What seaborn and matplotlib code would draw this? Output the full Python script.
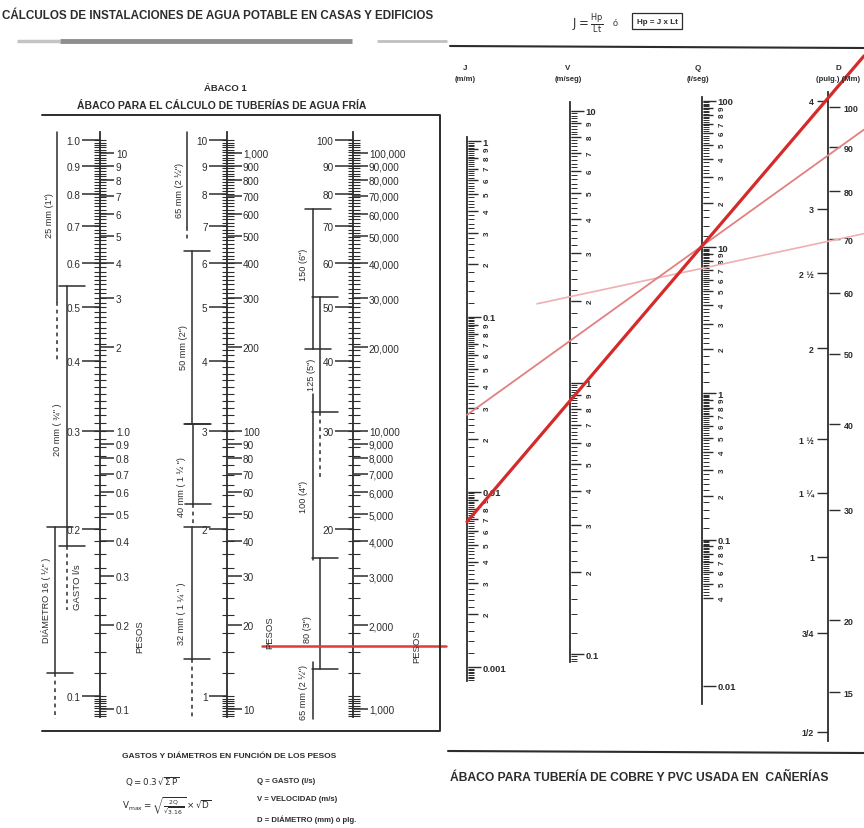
import numpy as np
import matplotlib
matplotlib.use("Agg")
import matplotlib.pyplot as plt
import seaborn as sns
from matplotlib.ticker import FixedLocator, FixedFormatter, NullFormatter, NullLocator, LogLocator

# ------------------------------------------------------------------ data
# Abaco 1 (agua fria): gasto Q (l/s) on the left of each scale, pesos P on the right
gasto1 = [0.1, 0.2, 0.3, 0.4, 0.5, 0.6, 0.7, 0.8, 0.9, 1.0]
gasto1_lbl = ["0.1", "0.2", "0.3", "0.4", "0.5", "0.6", "0.7", "0.8", "0.9", "1.0"]
pesos1 = [0.1, 0.2, 0.3, 0.4, 0.5, 0.6, 0.7, 0.8, 0.9, 1.0, 2, 3, 4, 5, 6, 7, 8, 9, 10]
pesos1_lbl = ["0.1", "0.2", "0.3", "0.4", "0.5", "0.6", "0.7", "0.8", "0.9", "1.0",
              "2", "3", "4", "5", "6", "7", "8", "9", "10"]
gasto2 = [1, 2, 3, 4, 5, 6, 7, 8, 9, 10]
gasto2_lbl = ["1", "2", "3", "4", "5", "6", "7", "8", "9", "10"]
pesos2 = [10, 20, 30, 40, 50, 60, 70, 80, 90, 100, 200, 300, 400, 500, 600, 700, 800, 900, 1000]
pesos2_lbl = ["10", "20", "30", "40", "50", "60", "70", "80", "90", "100",
              "200", "300", "400", "500", "600", "700", "800", "900", "1,000"]
gasto3 = [20, 30, 40, 50, 60, 70, 80, 90, 100]
gasto3_lbl = ["20", "30", "40", "50", "60", "70", "80", "90", "100"]
pesos3 = [1000, 2000, 3000, 4000, 5000, 6000, 7000, 8000, 9000, 10000,
          20000, 30000, 40000, 50000, 60000, 70000, 80000, 90000, 100000]
pesos3_lbl = ["1,000", "2,000", "3,000", "4,000", "5,000", "6,000", "7,000", "8,000", "9,000",
              "10,000", "20,000", "30,000", "40,000", "50,000", "60,000", "70,000",
              "80,000", "90,000", "100,000"]

# diameter ranges (gasto l/s): name, column, tick-start, solid-end, dashed-end, label-at
diam_name = ['25 mm (1")', '20 mm ( ¾" )', 'DIÁMETRO 16 ( ½" )',
             '65 mm (2 ½")', '50 mm (2")', '40 mm ( 1 ½ ")', '32 mm ( 1 ¼ " )',
             '150 (6")', '125 (5")', '100 (4")', '80 (3")', '65 mm (2 ½")']
diam_col = [0, 0, 0, 1, 1, 1, 1, 2, 2, 2, 2, 2]
diam_q_start = [1.034, 0.546, 0.201, 10.34, 6.31, 3.08, 2.01, 75.2, 52.2, 34.9, 17.7, 11.5]
diam_q_solid = [0.512, 0.186, 0.110, 6.98, 3.08, 2.22, 1.166, 42.1, 32.4, 17.6, 11.2, 9.09]
diam_q_dash = [0.399, 0.143, 0.0909, 6.64, 3.08, 2.04, 0.917, 42.1, 24.6, 17.6, 11.2, 9.09]
diam_q_label = [0.736, 0.302, 0.149, 8.16, 4.26, 2.39, 1.41, 59.8, 38.0, 22.9, 13.2, 10.2]
diam_has_tick = [False, True, True, False, True, True, True, True, True, False, True, False]
pesos_mark = 1680  # red reading line on the third scale

# Abaco cobre / PVC
J_major = [0.001, 0.01, 0.1, 1]
J_major_lbl = ["0.001", "0.01", "0.1", "1"]
J_digits = [0.002, 0.003, 0.004, 0.005, 0.006, 0.007, 0.008, 0.009,
            0.02, 0.03, 0.04, 0.05, 0.06, 0.07, 0.08, 0.09,
            0.2, 0.3, 0.4, 0.5, 0.6, 0.7, 0.8, 0.9]
V_major = [0.1, 1, 10]
V_major_lbl = ["0.1", "1", "10"]
V_digits = [0.2, 0.3, 0.4, 0.5, 0.6, 0.7, 0.8, 0.9, 2, 3, 4, 5, 6, 7, 8, 9]
Q_major = [0.01, 0.1, 1, 10, 100]
Q_major_lbl = ["0.01", "0.1", "1", "10", "100"]
Q_digits = [0.04, 0.05, 0.06, 0.07, 0.08, 0.09, 0.2, 0.3, 0.4, 0.5, 0.6, 0.7, 0.8, 0.9,
            2, 3, 4, 5, 6, 7, 8, 9, 20, 30, 40, 50, 60, 70, 80, 90]
D_pulg = [0.5, 0.75, 1, 1.25, 1.5, 2, 2.5, 3, 4]
D_pulg_lbl = ["1/2", "3/4", "1", "1 ¼", "1 ½", "2", "2 ½", "3", "4"]
D_mm = [15, 20, 30, 40, 50, 60, 70, 80, 90, 100]
D_mm_lbl = ["15", "20", "30", "40", "50", "60", "70", "80", "90", "100"]
# reading lines: (J, Q) pairs and one (V, D) pair
line_thick_J, line_thick_Q = 0.00675, 10.2
line_mid_J, line_mid_Q = 0.0275, 10.2
line_pale_V, line_pale_D = 2.07, 2.74

# ------------------------------------------------------------------ style
sns.set_style("white")
plt.rcParams['font.family'] = ['Liberation Sans', 'DejaVu Sans']
plt.rcParams['mathtext.fontset'] = 'dejavusans'
ink = "#2c2c2c"

W, H = 864, 829
fig = plt.figure(figsize=(8.64, 8.29), dpi=100)
fig.patch.set_facecolor("white")

ov = fig.add_axes([0, 0, 1, 1])
ov.set_xlim(0, W)
ov.set_ylim(H, 0)
ov.axis('off')
ov.set_zorder(10)
ov.autoscale(False)


def rect(x, ytop, ybot, w=0.5):
    return [x / W, 1 - ybot / H, w / W, (ybot - ytop) / H]


def bare(ax):
    for s in ax.spines.values():
        s.set_visible(False)
    ax.xaxis.set_visible(False)
    ax.patch.set_alpha(0)


def scale_axis(x, ytop, ybot, lim, scale='log', funcs=None):
    ax = fig.add_axes(rect(x, ytop, ybot))
    bare(ax)
    ax.spines['left'].set_visible(True)
    ax.spines['left'].set_color(ink)
    ax.spines['left'].set_linewidth(1.3)
    if scale == 'log':
        ax.set_yscale('log')
    else:
        ax.set_yscale('function', functions=funcs)
    ax.set_ylim(*lim)
    return ax


def twin(ax, lim, scale='log', funcs=None):
    t = ax.twinx()
    bare(t)
    if scale == 'log':
        t.set_yscale('log')
    else:
        t.set_yscale('function', functions=funcs)
    t.set_ylim(*lim)
    return t


def px(ax, v):
    d = ax.transData.transform((0, v))
    return ov.transData.inverted().transform(d)


def q2p(q):
    return (np.asarray(q) / 0.3) ** 2


# ------------------------------------------------------------------ Abaco 1
col_x = [100, 227, 353]
col_lim = [(0.0917, 1.034), (0.917, 10.34), (9.17, 103.4)]
col_g = [(gasto1, gasto1_lbl), (gasto2, gasto2_lbl), (gasto3, gasto3_lbl)]
col_p = [(pesos1, pesos1_lbl), (pesos2, pesos2_lbl), (pesos3, pesos3_lbl)]
col_axes = []
pes_axes = []
for x, lim, (g, gl), (p, pl) in zip(col_x, col_lim, col_g, col_p):
    ax = scale_axis(x, 133, 718, lim)
    tp = twin(ax, (q2p(lim[0]), q2p(lim[1])))
    td = twin(ax, lim)
    ax.yaxis.set_major_locator(FixedLocator(g))
    ax.yaxis.set_major_formatter(FixedFormatter(gl))
    ax.yaxis.set_minor_locator(NullLocator())
    ax.tick_params(axis='y', which='major', left=True, right=False, labelleft=True,
                   labelright=False, length=13, width=1.1, pad=1, labelsize=7.2,
                   colors=ink, direction='out')
    tp.yaxis.set_major_locator(FixedLocator(p))
    tp.yaxis.set_major_formatter(FixedFormatter(pl))
    tp.yaxis.set_minor_locator(NullLocator())
    tp.tick_params(axis='y', which='major', right=True, left=False, labelright=True,
                   labelleft=False, length=10, width=1.1, pad=1, labelsize=7.2,
                   colors=ink, direction='out')
    td.yaxis.set_major_locator(LogLocator(base=10, subs=np.arange(1.0, 10.0, 0.1), numticks=20))
    td.yaxis.set_major_formatter(NullFormatter())
    td.yaxis.set_minor_locator(NullLocator())
    td.tick_params(axis='y', which='major', right=True, left=False, labelright=False,
                   labelleft=False, length=9, width=0.8, colors=ink, direction='inout')
    col_axes.append(ax)
    pes_axes.append(tp)

# diameter bars (positions are layout offsets from each scale)
bar_x = [57, 67, 55, 187, 192, 193, 192, 313, 320, 313, 320, 313]
lab_x = [49, 57, 46, 180, 183, 182, 182, 303, 311, 304, 308, 304]
for i, name in enumerate(diam_name):
    a = col_axes[diam_col[i]]
    y0 = px(a, diam_q_start[i])[1]
    y1 = px(a, diam_q_solid[i])[1]
    y2 = px(a, diam_q_dash[i])[1]
    yl = px(a, diam_q_label[i])[1]
    xb = bar_x[i]
    ov.plot([xb, xb], [y0, y1], color=ink, lw=1.1)
    if y2 > y1 + 2:
        ov.plot([xb, xb], [y1, y2], color=ink, lw=1.1, ls=(0, (2.5, 2.5)))
    if diam_has_tick[i]:
        ov.plot([xb - 8, xb + 18], [y0, y0], color=ink, lw=1.1)
        ov.plot([xb - 8, xb + 18], [y1, y1], color=ink, lw=1.1)
    ov.text(lab_x[i], yl, name, rotation=90, fontsize=6.6, color=ink,
            ha='center', va='center')

ov.text(78, 587, "GASTO l/s", rotation=90, fontsize=6.8, color=ink, ha='center', va='center')
ov.text(140, 637, "PESOS", rotation=90, fontsize=6.8, color=ink, ha='center', va='center')
ov.text(270, 633, "PESOS", rotation=90, fontsize=6.8, color=ink, ha='center', va='center')
ov.text(417, 647, "PESOS", rotation=90, fontsize=6.8, color=ink, ha='center', va='center')

# red reading line on abaco 1
yr = px(pes_axes[2], pesos_mark)[1]
sns.lineplot(x=[262, 446], y=[yr, yr], ax=ov, color="#e03a3a", lw=1.8, sort=False)

# titles / frame of abaco 1
ov.text(2, 16, "CÁLCULOS DE INSTALACIONES DE AGUA POTABLE EN CASAS Y EDIFICIOS",
        fontsize=8.4, fontweight='bold', color=ink, ha='left', va='center')
ov.plot([17, 60], [42, 42], color="#c4c4c4", lw=2.5, solid_capstyle='butt')
ov.plot([60, 352], [42, 42], color="#8e8e8e", lw=3.5, solid_capstyle='butt')
ov.plot([377, 447], [42, 42], color="#c0c0c0", lw=2, solid_capstyle='butt')
ov.text(225, 88, "ÁBACO 1", fontsize=6.8, fontweight='bold', color=ink, ha='center', va='center')
ov.text(222, 106, "ÁBACO PARA EL CÁLCULO DE TUBERÍAS DE AGUA FRÍA", fontsize=7.5,
        fontweight='bold', color=ink, ha='center', va='center')
ov.plot([42, 440, 440, 42], [116, 116, 732, 732], color=ink, lw=1.4)

ov.text(122, 757, "GASTOS Y DIÁMETROS EN FUNCIÓN DE LOS PESOS", fontsize=6,
        fontweight='bold', color=ink, ha='left', va='center')
ov.text(125, 782, r"$\mathsf{Q = 0.3\,\sqrt{\Sigma\,P}}$", fontsize=6.3, color=ink,
        ha='left', va='center')
ov.text(122, 806, r"$\mathsf{V_{max} = \sqrt{\frac{2Q}{\sqrt{3.16}}}\times\sqrt{D}}$",
        fontsize=6.3, color=ink, ha='left', va='center')
ov.text(257, 782, "Q = GASTO (l/s)", fontsize=5.6, fontweight='bold', color=ink, va='center')
ov.text(257, 800, "V = VELOCIDAD (m/s)", fontsize=5.6, fontweight='bold', color=ink, va='center')
ov.text(257, 820, "D = DIÁMETRO (mm) ó plg.", fontsize=5.6, fontweight='bold', color=ink,
        va='center')


# ------------------------------------------------------------------ Abaco cobre / PVC
def right_scale(x, ytop, ybot, lim, major, major_lbl, digits, lo=None):
    ax = scale_axis(x, ytop, ybot, lim)
    td = twin(ax, lim)
    ax.yaxis.set_ticks_position('right')
    ax.yaxis.set_label_position('right')
    ax.yaxis.set_major_locator(FixedLocator(major))
    ax.yaxis.set_major_formatter(FixedFormatter(major_lbl))
    ax.yaxis.set_minor_locator(FixedLocator(digits))
    ax.yaxis.set_minor_formatter(FixedFormatter([str(int(round(d / 10 ** np.floor(np.log10(d)))))
                                                 for d in digits]))
    ax.tick_params(axis='y', which='major', left=False, right=True, labelleft=False,
                   labelright=True, length=9, width=1, pad=2, labelsize=6.8, colors=ink,
                   direction='out')
    ax.tick_params(axis='y', which='minor', left=False, right=True, labelleft=False,
                   labelright=True, length=7, width=1, pad=5, labelsize=5.8, colors=ink,
                   direction='out', labelrotation=90)
    for t in ax.get_yticklabels(which='both'):
        t.set_fontweight('bold')
    dense = LogLocator(base=10, subs=np.arange(1.0, 10.0, 0.2), numticks=20).tick_values(*lim)
    if lo is not None:
        dense = [d for d in dense if d >= lo]
    td.yaxis.set_major_locator(FixedLocator(dense))
    td.yaxis.set_major_formatter(NullFormatter())
    td.yaxis.set_minor_locator(NullLocator())
    td.tick_params(axis='y', which='major', right=True, left=False, labelright=False,
                   labelleft=False, length=4, width=0.7, colors=ink, direction='out')
    return ax


axJ = right_scale(467, 138, 682, (0.000832, 1.06), J_major, J_major_lbl, J_digits)
axV = right_scale(570, 103, 663, (0.0935, 10.79), V_major, V_major_lbl, V_digits)
axQ = right_scale(702, 98, 705, (0.00753, 106.5), Q_major, Q_major_lbl, Q_digits, lo=0.04)


def d_fwd(d):
    return np.power(np.maximum(d, 1e-6), 0.25)


def d_inv(f):
    return np.power(np.maximum(f, 0), 4)


def mm_fwd(m):
    return np.power(np.maximum(m, 1e-6) / 25.4, 0.25)


def mm_inv(f):
    return 25.4 * np.power(np.maximum(f, 0), 4)


D_lim = (0.480, 4.093)
axD = scale_axis(828, 93, 742, D_lim, scale='function', funcs=(d_fwd, d_inv))
tmm = twin(axD, (D_lim[0] * 25.4, D_lim[1] * 25.4), scale='function', funcs=(mm_fwd, mm_inv))
axD.yaxis.set_ticks_position('left')
axD.yaxis.set_major_locator(FixedLocator(D_pulg))
axD.yaxis.set_major_formatter(FixedFormatter(D_pulg_lbl))
axD.yaxis.set_minor_locator(NullLocator())
axD.tick_params(axis='y', which='major', left=True, right=False, labelleft=True,
                labelright=False, length=8, width=1, pad=2, labelsize=6.4, colors=ink)
for t in axD.get_yticklabels():
    t.set_fontweight('bold')
tmm.yaxis.set_major_locator(FixedLocator(D_mm))
tmm.yaxis.set_major_formatter(FixedFormatter(D_mm_lbl))
tmm.yaxis.set_minor_locator(NullLocator())
tmm.tick_params(axis='y', which='major', right=True, left=False, labelright=True,
                labelleft=False, length=8, width=1, pad=3, labelsize=6.4, colors=ink)
for t in tmm.get_yticklabels():
    t.set_fontweight('bold')

# header of right abaco
ov.text(572, 23, r"$\mathsf{J = \frac{Hp}{Lt}}$", fontsize=8.5, color=ink, ha='left', va='center')
ov.text(615, 23, "ó", fontsize=6.5, color=ink, ha='center', va='center')
ov.text(657, 22, "Hp = J x Lt", fontsize=5.8, fontweight='bold', color=ink, ha='center',
        va='center', bbox=dict(boxstyle='square,pad=0.6', fc='white', ec=ink, lw=0.9))
ov.plot([450, 864], [47, 49], color=ink, lw=1.5)
for xh, a, b in [(465, "J", "(m/m)"), (568, "V", "(m/seg)"), (698, "Q", "(l/seg)"),
                 (838, "D", "(pulg.) (Mm)")]:
    ov.text(xh, 68, a, fontsize=5.8, fontweight='bold', color=ink, ha='center', va='center')
    ov.text(xh, 79, b, fontsize=5.5, fontweight='bold', color=ink, ha='center', va='center')

ov.plot([448, 864], [752, 754], color=ink, lw=1.5)
ov.text(450, 778, "ÁBACO PARA TUBERÍA DE COBRE Y PVC USADA EN  CAÑERÍAS", fontsize=8.7,
        fontweight='bold', color=ink, ha='left', va='center')


# reading lines through the scales, extended to the page edge
def reading_line(p_a, p_b, x_start, color, lw):
    slope = (p_b[1] - p_a[1]) / (p_b[0] - p_a[0])
    xs = [x_start, W]
    ys = [p_a[1] + slope * (x - p_a[0]) for x in xs]
    sns.lineplot(x=xs, y=ys, ax=ov, color=color, lw=lw, sort=False)


pj1, pq1 = px(axJ, line_thick_J), px(axQ, line_thick_Q)
pj2, pq2 = px(axJ, line_mid_J), px(axQ, line_mid_Q)
pv3, pd3 = px(axV, line_pale_V), px(axD, line_pale_D)
reading_line(pv3, pd3, pv3[0] - 33, "#eeb0b0", 1.2)
reading_line(pj2, pq2, pj2[0], "#e28080", 1.3)
reading_line(pj1, pq1, pj1[0], "#d42a2a", 2.3)

ov.set_xlim(0, W)
ov.set_ylim(H, 0)
fig.savefig("out.png", dpi=100, facecolor="white")
